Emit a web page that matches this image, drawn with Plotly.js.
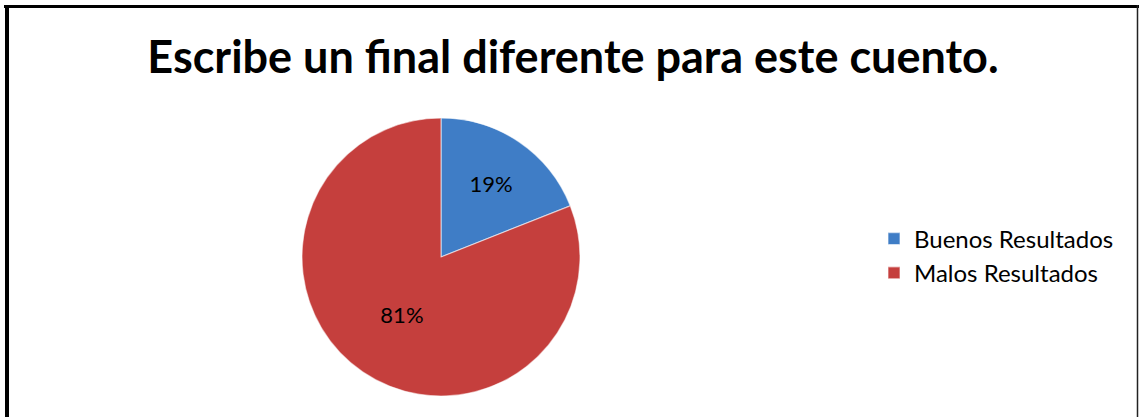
<!DOCTYPE html>
<html>
<head>
<meta charset="utf-8">
<script src="https://cdn.plot.ly/plotly-3.0.1.min.js"></script>
<style>
  html, body { margin: 0; padding: 0; background: #ffffff; }
  #chart { width: 1140px; height: 417px; }
</style>
</head>
<body>
<div id="chart"></div>
<script>
const categories = ["Buenos Resultados", "Malos Resultados"];
const values = [19, 81];
const sliceColors = ["#3f7dc6", "#c53f3d"];
const chartTitle = "Escribe un final diferente para este cuento.";

const W = 1140, H = 417;
const px = v => v / W;
const py = v => 1 - v / H;

const trace = {
  type: "pie",
  labels: categories,
  values: values,
  sort: false,
  direction: "clockwise",
  rotation: 0,
  textinfo: "percent",
  texttemplate: "%{percent:.0%}",
  textposition: "inside",
  insidetextorientation: "horizontal",
  textfont: { family: "Lato, 'Open Sans', sans-serif", size: 22, color: "#000000" },
  marker: { colors: sliceColors, line: { color: "rgba(255,255,255,0.55)", width: 1.2 } },
  domain: { x: [px(302), px(580)], y: [py(396), py(118)] },
  hoverinfo: "label+percent"
};

const layout = {
  width: W,
  height: H,
  margin: { l: 0, r: 0, t: 0, b: 0, pad: 0 },
  paper_bgcolor: "#ffffff",
  plot_bgcolor: "#ffffff",
  showlegend: true,
  title: {
    text: "<b>" + chartTitle + "</b>",
    font: { family: "Lato, 'Open Sans', sans-serif", size: 45, color: "#000000" },
    x: px(573), xanchor: "center", xref: "container",
    y: 1 - 57 / H, yanchor: "middle", yref: "container"
  },
  legend: {
    x: px(874), xanchor: "left",
    y: py(256), yanchor: "middle",
    font: { family: "Lato, 'Open Sans', sans-serif", size: 24, color: "#000000" },
    bgcolor: "rgba(0,0,0,0)",
    itemwidth: 30
  },
  shapes: [
    { type: "line", xref: "paper", yref: "paper", x0: px(4), x1: px(1139), y0: py(6.5), y1: py(6.5), line: { color: "#000000", width: 3 } },
    { type: "line", xref: "paper", yref: "paper", x0: px(7), x1: px(7), y0: py(5), y1: py(420), line: { color: "#000000", width: 4 } },
    { type: "line", xref: "paper", yref: "paper", x0: px(1137.5), x1: px(1137.5), y0: py(5), y1: py(420), line: { color: "#222222", width: 1.5 } }
  ]
};

Plotly.newPlot("chart", [trace], layout, { displayModeBar: false, staticPlot: true });
</script>
</body>
</html>
